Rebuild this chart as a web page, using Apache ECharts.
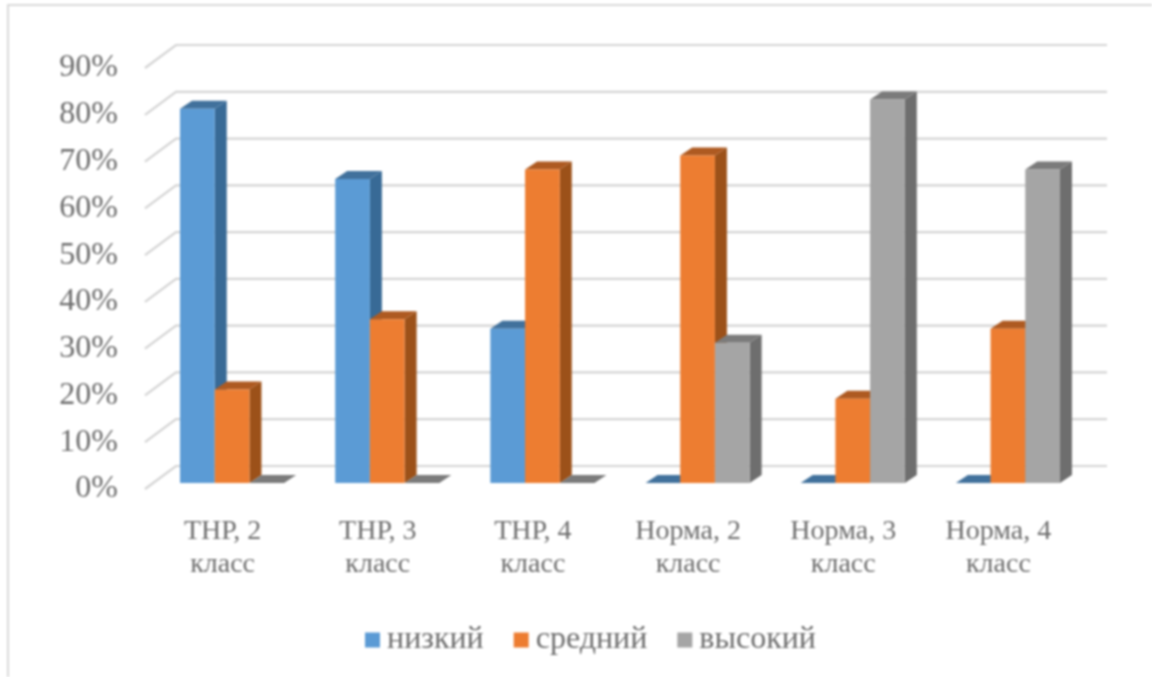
<!DOCTYPE html>
<html><head><meta charset="utf-8">
<style>html,body{margin:0;padding:0;background:#fff}#c{width:1152px;height:677px;filter:blur(.9px)}</style>
<script src="https://cdn.jsdelivr.net/npm/echarts@6/dist/echarts.min.js"></script>
</head><body><div id="c"></div>
<script>
const categories = ['ТНР, 2\nкласс','ТНР, 3\nкласс','ТНР, 4\nкласс','Норма, 2\nкласс','Норма, 3\nкласс','Норма, 4\nкласс'];
const low  = [80,65,33,0,0,0];
const mid  = [20,35,67,70,18,33];
const high = [0,0,0,30,82,67];
const ticks = [0,10,20,30,40,50,60,70,80,90];
const names = ['низкий','средний','высокий'];
const font = '"Liberation Serif","Times New Roman",serif';
const textColor = '#6e6e6e';
const palettes = [
  {front:'#5b9bd5',side:'#386a96',top:'#41719c'},
  {front:'#ed7d31',side:'#9c5119',top:'#ae5a21'},
  {front:'#a5a5a5',side:'#6e6e6e',top:'#7b7b7b'}
];
const chart = echarts.init(document.getElementById('c'));
const wall = {dx:31, dy:-23}, depth = {dx:12, dy:-8}, shift = {dx:9.5, dy:-6};
const barW = 34.7;
function bar(idx){
  const p = palettes[idx];
  return (params, api) => {
    const c = api.coord([api.value(0), api.value(1)]);
    const b = api.coord([api.value(0), 0]);
    const x0 = c[0] + shift.dx + (idx-1.5)*barW, x1 = x0 + barW;
    const y0 = c[1] + shift.dy, y1 = b[1] + shift.dy;
    const d = depth;
    const children = [
      {type:'polygon', shape:{points:[[x1,y0],[x1+d.dx,y0+d.dy],[x1+d.dx,y1+d.dy],[x1,y1]]}, style:{fill:p.side}},
      {type:'polygon', shape:{points:[[x0,y0],[x0+d.dx,y0+d.dy],[x1+d.dx,y0+d.dy],[x1,y0]]}, style:{fill:p.top}}
    ];
    if (y1 > y0) children.push({type:'rect', shape:{x:x0,y:y0,width:barW,height:y1-y0}, style:{fill:p.front}});
    return {type:'group', children};
  };
}
function mk(idx, values){
  return {name:names[idx], type:'custom', itemStyle:{color:palettes[idx].front}, z:3,
    renderItem:bar(idx), data:values.map((v,i)=>[i,v]), encode:{x:0,y:1}};
}
chart.setOption({
  animation:false,
  backgroundColor:'#fff',
  graphic:[{type:'polyline', shape:{points:[[8,677],[8,5],[1152,5]]}, style:{stroke:'#d9d9d9',lineWidth:2,fill:null}}],
  grid:{left:145, top:68, width:931, height:421},
  legend:{data:names, left:360, top:619, itemWidth:15, itemHeight:15, itemGap:30, icon:'rect',
    textStyle:{fontFamily:font, fontSize:32, color:textColor, padding:[0,0,0,2]}},
  xAxis:{type:'category', data:categories, axisLine:{show:false}, axisTick:{show:false}, splitLine:{show:false},
    axisLabel:{fontFamily:font, fontSize:28, color:textColor, lineHeight:33, margin:26, interval:0}},
  yAxis:{type:'value', min:0, max:90, interval:10, axisLine:{show:false}, axisTick:{show:false}, splitLine:{show:false},
    axisLabel:{fontFamily:font, fontSize:32, color:textColor, margin:27, padding:[4,0,0,0], formatter:'{value}%'}},
  series:[
    {type:'custom', silent:true, z:1, data:ticks.map(t=>[0,t]), encode:{x:0,y:1},
     renderItem:(params, api)=>{
       const y = api.coord([0, api.value(1)])[1];
       const g = params.coordSys;
       return {type:'polyline', shape:{points:[[g.x,y],[g.x+wall.dx,y+wall.dy],[g.x+g.width+wall.dx,y+wall.dy]]},
         style:{stroke:'#d4d4d4', lineWidth:2.2, fill:null}};
     }},
    mk(0,low), mk(1,mid), mk(2,high)
  ]
});
</script></body></html>
